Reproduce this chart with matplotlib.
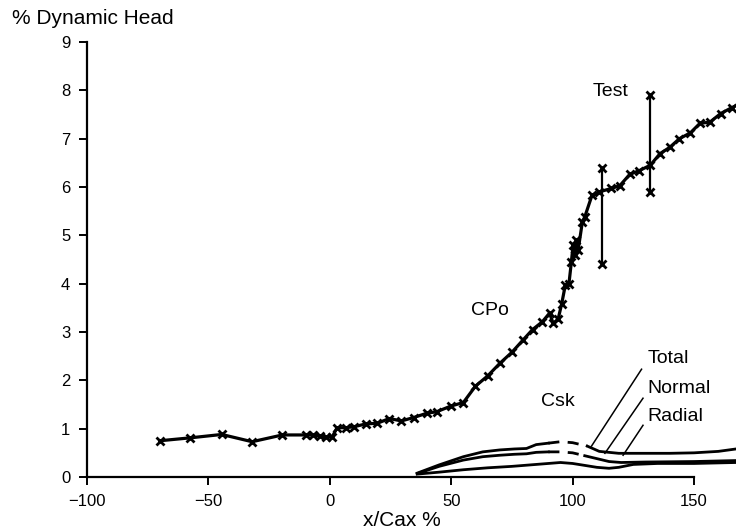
import matplotlib.pyplot as plt

plt.rcParams['font.family'] = ['Liberation Sans', 'DejaVu Sans']

# pression totale CPo le long de la veine
x_cpo = [-70, -57.5, -44.5, -32, -19.5, -10, -7, -4, -1.5, 1, 3, 6.5, 10, 15, 19.5,
         24.5, 29.5, 34.5, 40, 44, 50, 55, 60, 65, 70, 75, 79.5, 83.5, 87.5, 90.5,
         92, 94, 95.5, 97, 98.5, 99.5, 100.2, 101, 101.6, 102.3, 104, 105, 108,
         111, 116, 119.5, 123.5, 127.5, 132, 136, 140, 144, 148.5, 152.5, 156.5,
         161, 165.5, 170]
y_cpo = [0.75, 0.81, 0.88, 0.73, 0.87, 0.87, 0.87, 0.85, 0.83, 0.83, 1.02, 1.02,
         1.04, 1.1, 1.11, 1.21, 1.16, 1.23, 1.32, 1.35, 1.47, 1.54, 1.88, 2.09,
         2.35, 2.58, 2.83, 3.05, 3.21, 3.39, 3.18, 3.26, 3.58, 3.97, 4.0, 4.45,
         4.8, 4.6, 4.9, 4.7, 5.27, 5.38, 5.83, 5.9, 5.97, 6.03, 6.26, 6.34, 6.45,
         6.69, 6.82, 7.0, 7.12, 7.32, 7.34, 7.52, 7.64, 7.75]

# barres d'essai
x_test = [112, 132]
test_bas = [4.4, 5.9]
test_haut = [6.4, 7.9]

# frottement pariétal Csk (parties en tirets = zone incertaine)
x_total_a = [36, 45, 55, 63, 70, 76, 81, 85, 90]
y_total_a = [0.08, 0.25, 0.42, 0.52, 0.56, 0.58, 0.59, 0.67, 0.70]
x_total_b = [90, 95, 100, 106]
y_total_b = [0.70, 0.73, 0.71, 0.64]
x_total_c = [106, 111, 119, 130, 140, 150, 160, 167.3]
y_total_c = [0.64, 0.53, 0.49, 0.49, 0.49, 0.5, 0.53, 0.58]

x_normal_a = [36, 45, 55, 63, 70, 76, 81, 85, 90]
y_normal_a = [0.07, 0.22, 0.35, 0.42, 0.45, 0.47, 0.48, 0.51, 0.52]
x_normal_b = [90, 95, 100, 105]
y_normal_b = [0.52, 0.52, 0.5, 0.44]
x_normal_c = [105, 110, 115, 120, 130, 150, 167.3]
y_normal_c = [0.44, 0.38, 0.32, 0.3, 0.31, 0.32, 0.34]

x_radial = [36, 45, 55, 65, 75, 85, 95, 100, 105, 110, 115, 119, 125, 135, 150, 167.3]
y_radial = [0.06, 0.1, 0.15, 0.19, 0.22, 0.26, 0.3, 0.28, 0.24, 0.2, 0.18, 0.2,
            0.26, 0.28, 0.28, 0.3]

# traits de rappel des étiquettes
rappels = [((107.8, 128.4), (0.64, 2.23)),
           ((113.3, 129.0), (0.49, 1.63)),
           ((120.8, 129.0), (0.45, 1.07))]

fig = plt.figure(figsize=(7.36, 5.29), dpi=100)
ax = fig.add_axes([0.1182, 0.0983, 0.8818, 0.8223])

ax.plot(x_cpo, y_cpo, color='black', lw=2.3, marker='x', ms=6, mew=2)
for xt, lo, hi in zip(x_test, test_bas, test_haut):
    ax.plot([xt, xt], [lo, hi], color='black', lw=1.6, marker='x', ms=6, mew=2)

for xs, ys, ls in [(x_total_a, y_total_a, '-'), (x_total_b, y_total_b, '--'),
                   (x_total_c, y_total_c, '-'), (x_normal_a, y_normal_a, '-'),
                   (x_normal_b, y_normal_b, '--'), (x_normal_c, y_normal_c, '-'),
                   (x_radial, y_radial, '-')]:
    ax.plot(xs, ys, color='black', lw=2, ls=ls, dashes=(4, 3) if ls == '--' else (None, None))

for xs, ys in rappels:
    ax.plot(xs, ys, color='black', lw=1.1)

ax.text(108.4, 7.97, "Test", fontsize=14, va='center')
ax.text(58, 3.45, "CPo", fontsize=14, va='center')
ax.text(86.8, 1.56, "Csk", fontsize=14, va='center')
ax.text(131, 2.46, "Total", fontsize=14, va='center')
ax.text(131, 1.84, "Normal", fontsize=14, va='center')
ax.text(131, 1.26, "Radial", fontsize=14, va='center')

ax.set_xlim(-100, 167.3)
ax.set_ylim(0, 9)
ax.set_xticks([-100, -50, 0, 50, 100, 150])
ax.set_yticks(range(10))
ax.spines['top'].set_visible(False)
ax.spines['right'].set_visible(False)
ax.spines['bottom'].set_bounds(-100, 150)
ax.spines['left'].set_linewidth(1.6)
ax.spines['bottom'].set_linewidth(1.6)
ax.tick_params(direction='out', length=6, width=1.4, labelsize=12, pad=6)

fig.text(12 / 736, 1 - 19 / 529, "% Dynamic Head", fontsize=15, va='center', ha='left')
fig.text(402 / 736, 1 - 521 / 529, "x/Cax %", fontsize=15, va='center', ha='center')

fig.savefig("out.png", dpi=100)
